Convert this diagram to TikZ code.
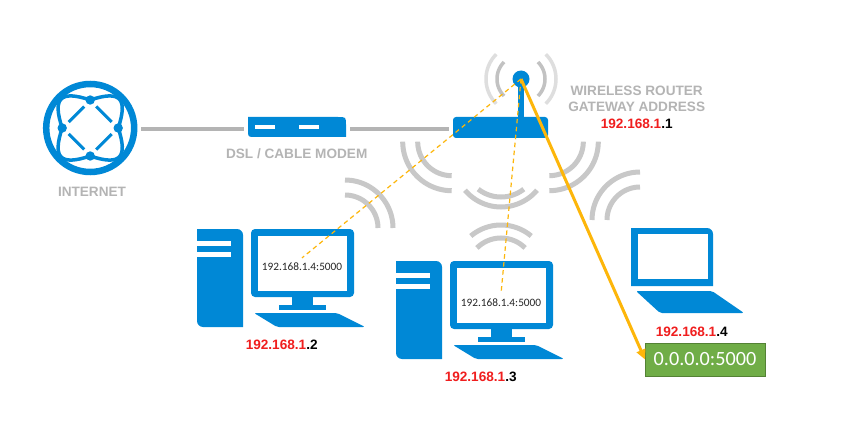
\documentclass[tikz,border=0pt]{standalone}
\usepackage{fontspec}
\usetikzlibrary{arrows.meta}
\setmainfont{Liberation Sans}
\newfontfamily\carlito{Carlito}
\definecolor{netblue}{HTML}{0088D6}
\definecolor{cablegray}{HTML}{B4B4B4}
\definecolor{wavegray}{HTML}{C8C8C8}
\definecolor{ipred}{HTML}{F01E1E}
\definecolor{linkorange}{HTML}{FDB60A}
\definecolor{portgreen}{HTML}{70AD47}
\newcommand{\wavearc}[6][]{\draw[wave,#1] plot[domain=#5:#6,samples=25] ({#2+#4*cos(\x)},{#3+#4*sin(\x)});}
\newcommand{\ipaddr}[1]{{\color{ipred}192.168.1}.#1}
\tikzset{
	cable/.style={cablegray,line width=4pt,shorten <=4pt,shorten >=4pt},
	wave/.style={wavegray,line width=5pt,smooth},
	softwave/.style={line width=3.5pt},
	graylabel/.style={text=cablegray,font=\fontsize{13.6}{16}\selectfont\bfseries,inner sep=0pt},
	iplabel/.style={font=\fontsize{13.6}{16}\selectfont\bfseries,inner sep=0pt},
	screenlabel/.style={text=black!85,font=\carlito\fontsize{11.3}{13}\selectfont,inner sep=5pt},
	tunnel/.style={linkorange,line width=1.2pt,dash pattern=on 4.5pt off 3.5pt},
	boxshape/.style={inner sep=0pt,outer sep=0pt,rectangle},
	desktop/.pic={
		\fill[netblue] (0,0) -- (39,0) [rounded corners=6pt] -- (46,0) [sharp corners] -- (46,98) -- (6,98) [rounded corners=6pt] -- (0,98) [sharp corners] -- cycle;
		\fill[white] (0,12) rectangle (34,17);
		\fill[white] (0,23) rectangle (34,28);
		\fill[netblue,rounded corners=4pt] (54,0) rectangle (157,68);
		\fill[white] (61,7) rectangle (150,62);
		\fill[netblue] (95,66) rectangle (116,78);
		\fill[netblue] (82,76) rectangle (129,80.5);
		\fill[netblue,rounded corners=2pt] (57,84) -- (140,84) -- (168,98) -- (80,98) -- cycle;
	}
}
\begin{document}
\begin{tikzpicture}[x=1pt,y=-1pt]
	\fill[white] (0,0) rectangle (846,441);
	\useasboundingbox (0,0) rectangle (846,441);
	% globe
	\node[boxshape,circle,draw=netblue,line width=6.5pt,minimum size=88pt] (globe) at (90.2,128) {};
	\foreach \ang in {0,90,180,270}{
		\begin{scope}[shift={(globe.center)},rotate=\ang]
			\fill[netblue] (0,-28) circle (4.7pt);
			\draw[netblue,line width=3.5pt] (0,-28) .. controls (30,-38) and (38,-30) .. (28,0);
			\draw[netblue,line width=3pt] (6,-21.5) -- (21.5,-6);
		\end{scope}
	}
	% modem and router
	\node[boxshape,minimum width=98pt,minimum height=20pt] (modem) at (297,127) {};
	\fill[netblue] (modem.north west) -- ([xshift=-8pt]modem.north east) .. controls (modem.north east) .. ([yshift=-8pt]modem.north east) -- (modem.south east) -- ([xshift=7pt]modem.south west) .. controls (modem.south west) .. ([yshift=7pt]modem.south west) -- cycle;
	\fill[white] (255,125) rectangle (275,129);
	\fill[white] (299,125) rectangle (319,129);
	\node[boxshape,fill=netblue,rounded corners=3pt,minimum width=95pt,minimum height=21pt] (router) at (500.5,127.5) {};
	\node[boxshape,circle,fill=netblue,minimum size=17pt] (antenna) at (521,79) {};
	\draw[netblue,line width=6.5pt] (antenna) -- (antenna |- router.north);
	\draw[cable,shorten <=7pt] (globe.east |- 0,129) -- (modem.west |- 0,129);
	\draw[cable] (modem.east |- 0,129) -- (router.west |- 0,129);
	% waves
	\foreach \ang in {-45,135}{
		\wavearc[softwave,black!13]{521}{79}{35}{\ang}{\ang+90}
		\wavearc[softwave,black!24]{521}{79}{24}{\ang}{\ang+90}
	}
	\wavearc{451.7}{141.7}{49}{90}{180}
	\wavearc{451.7}{141.7}{34}{90}{180}
	\wavearc{549.3}{141.7}{49}{0}{90}
	\wavearc{549.3}{141.7}{34}{0}{90}
	\wavearc{501}{160}{47}{40}{140}
	\wavearc{501}{160}{37}{52}{128}
	\wavearc{501}{272}{47}{230}{310}
	\wavearc{501}{272}{34}{225}{315}
	\wavearc{640}{220}{48}{180}{270}
	\wavearc{640}{220}{33}{180}{270}
	\wavearc{345}{228}{48}{270}{360}
	\wavearc{345}{228}{33}{270}{360}
	% computers
	\pic (pcleft) at (197,229) {desktop};
	\pic (pcmid) at (396,261) {desktop};
	\node[screenlabel] (screenleft) at (302,267) {192.168.1.4:5000};
	\node[screenlabel] (screenmid) at (501,303) {192.168.1.4:5000};
	% laptop
	\fill[netblue] (631,228) -- (706,228) [rounded corners=6pt] -- (713,228) [sharp corners] -- (713,286) -- (631,286) -- cycle;
	\fill[white] (638,234) rectangle (708,279);
	\fill[netblue,rounded corners=2pt] (636,291) -- (712,291) -- (744,313) -- (660,313) -- cycle;
	% labels
	\node[graylabel] (netlabel) at (92,191.7) {INTERNET};
	\node[graylabel] (modemlabel) at (296.7,154) {DSL / CABLE MODEM};
	\node[graylabel] (routerlabel) at (636.7,91) {WIRELESS ROUTER};
	\node[graylabel] (gatewaylabel) at (636.7,107) {GATEWAY ADDRESS};
	\node[iplabel] (ipone) at (636.7,124) {\ipaddr{1}};
	\node[iplabel] (iptwo) at (281.7,345) {\ipaddr{2}};
	\node[iplabel] (ipthree) at (480.7,377) {\ipaddr{3}};
	\node[iplabel] (ipfour) at (691.7,332) {\ipaddr{4}};
	\node[boxshape,fill=portgreen,draw=portgreen!75!black,line width=0.6pt,minimum width=120pt,minimum height=33pt,text=white,font=\carlito\fontsize{20.2}{24}\selectfont] (port) at (705,359.5) {0.0.0.0:5000};
	% links
	\draw[tunnel] (antenna.center) -- (screenleft.north);
	\draw[tunnel] (antenna.center) -- (screenmid.north);
	\draw[linkorange,line width=3pt,-{Triangle[length=10pt,width=9pt]}] (antenna.center) -- (port.west);
\end{tikzpicture}
\end{document}
